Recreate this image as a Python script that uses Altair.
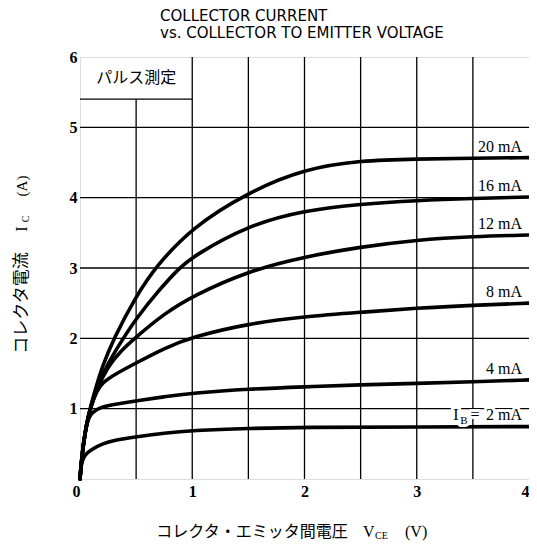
import altair as alt
import pandas as pd

# ---------------- data ----------------
V_2 = [0, 0.005, 0.015, 0.04, 0.1, 0.2, 0.3, 0.5, 0.75, 1, 1.5, 2, 3, 4]
I_2 = [0, 0.12, 0.24, 0.34, 0.42, 0.5, 0.55, 0.60, 0.655, 0.69, 0.72, 0.735, 0.74, 0.745]

V_4 = [0, 0.01, 0.03, 0.06, 0.1, 0.2, 0.3, 0.5, 0.75, 1, 1.5, 2, 2.5, 3, 3.5, 4]
I_4 = [0, 0.2, 0.5, 0.8, 0.95, 1.03, 1.06, 1.11, 1.17, 1.22, 1.28, 1.31, 1.34, 1.36, 1.38, 1.41]

V_8 = [0, 0.01, 0.03, 0.06, 0.1, 0.15, 0.2, 0.3, 0.5, 0.75, 1, 1.5, 2, 2.5, 3, 3.5, 4]
I_8 = [0, 0.2, 0.5, 0.8, 1.05, 1.25, 1.37, 1.48, 1.65, 1.86, 2.02, 2.21, 2.31, 2.37, 2.43, 2.47, 2.5]

V_12 = [0, 0.01, 0.03, 0.06, 0.1, 0.15, 0.25, 0.35, 0.5, 0.75, 1, 1.5, 2, 2.5, 3, 3.5, 4]
I_12 = [0, 0.2, 0.5, 0.8, 1.05, 1.28, 1.6, 1.8, 2.02, 2.35, 2.6, 2.96, 3.16, 3.3, 3.4, 3.45, 3.47]

V_16 = [0, 0.01, 0.03, 0.06, 0.1, 0.15, 0.25, 0.385, 0.5, 0.7, 0.885, 1, 1.5, 2, 2.5, 3, 3.5, 4]
I_16 = [0, 0.2, 0.5, 0.8, 1.05, 1.3, 1.65, 2.0, 2.28, 2.68, 3.0, 3.16, 3.61, 3.82, 3.91, 3.96, 3.99, 4.01]

V_20 = [0, 0.01, 0.03, 0.06, 0.1, 0.15, 0.2, 0.3, 0.5, 0.68, 1, 1.5, 2, 2.5, 3, 3.5, 4]
I_20 = [0, 0.2, 0.5, 0.8, 1.07, 1.35, 1.6, 2.0, 2.6, 3.03, 3.58, 4.08, 4.41, 4.53, 4.55, 4.56, 4.57]

CURVES = {"2 mA": (V_2, I_2), "4 mA": (V_4, I_4), "8 mA": (V_8, I_8),
          "12 mA": (V_12, I_12), "16 mA": (V_16, I_16), "20 mA": (V_20, I_20)}

LABELS = ["20 mA", "16 mA", "12 mA", "8 mA", "4 mA"]

X_TICKS = [0, 1, 2, 3, 4]
Y_TICKS = [1, 2, 3, 4, 5, 6]
V_GRID = [1, 1.5, 2, 2.5, 3, 3.5]
V_GRID_SHORT = [0.5]
I_GRID = [1, 2, 3, 4, 5]
BOX_BOTTOM = 5.4
BOX_RIGHT = 1

X_DOMAIN = [0, 4]
Y_DOMAIN = [0, 6]

# ---------------- tables ----------------
rows = []
for name, (vs, iss) in CURVES.items():
    for v, i in zip(vs, iss):
        rows.append({"series": name, "V": v, "I": i})
curve_df = pd.DataFrame(rows)

vgrid_df = pd.DataFrame(
    [{"v": v, "lo": Y_DOMAIN[0], "hi": Y_DOMAIN[1]} for v in V_GRID]
    + [{"v": v, "lo": Y_DOMAIN[0], "hi": BOX_BOTTOM} for v in V_GRID_SHORT]
)
hgrid_df = pd.DataFrame(
    [{"i": i, "lo": X_DOMAIN[0], "hi": X_DOMAIN[1]} for i in I_GRID]
    + [{"i": BOX_BOTTOM, "lo": X_DOMAIN[0], "hi": BOX_RIGHT}]
)
box_df = pd.DataFrame([{"v": BOX_RIGHT / 2, "i": (BOX_BOTTOM + Y_DOMAIN[1]) / 2, "t": "パルス測定"}])

label_df = pd.DataFrame(
    [{"V": CURVES[n][0][-1], "I": CURVES[n][1][-1], "t": n} for n in LABELS]
)
ib_df = pd.DataFrame([{"V": CURVES["2 mA"][0][-1], "I": CURVES["2 mA"][1][-1]}])

xs = alt.Scale(domain=X_DOMAIN, nice=False, zero=False)
ys = alt.Scale(domain=Y_DOMAIN, nice=False, zero=False)

SERIF = "Liberation Serif"
JP = "Noto Sans CJK JP"

x_axis = alt.Axis(values=X_TICKS, grid=False, ticks=False, domain=False, title=None,
                  format="d", labelFont=SERIF, labelFontSize=16, labelFontWeight="bold",
                  labelColor="black", labelPadding=4, labelFlush=False,
                  labelAlign=alt.expr("datum.value === 0 ? 'right' : (datum.value === 4 ? 'right' : 'center')"))
y_axis = alt.Axis(values=Y_TICKS, grid=False, ticks=False, domain=False, title=None,
                  format="d", labelFont=SERIF, labelFontSize=16, labelFontWeight="bold",
                  labelColor="black", labelPadding=3, labelFlush=False)

one = alt.Data(values=[{}])

# ---------------- layers ----------------
vgrid = alt.Chart(vgrid_df).mark_rule(color="black", strokeWidth=1.3).encode(
    x=alt.X("v:Q", scale=xs, axis=x_axis),
    y=alt.Y("lo:Q", scale=ys, axis=y_axis),
    y2="hi:Q",
)
hgrid = alt.Chart(hgrid_df).mark_rule(color="black", strokeWidth=1.3).encode(
    y=alt.Y("i:Q", scale=ys),
    x=alt.X("lo:Q", scale=xs),
    x2="hi:Q",
)
box_text = alt.Chart(box_df).mark_text(font=JP, fontSize=16, color="black").encode(
    x=alt.X("v:Q", scale=xs), y=alt.Y("i:Q", scale=ys), text="t:N"
)

lines = alt.Chart(curve_df).mark_line(
    color="black", strokeWidth=3.6, interpolate="basis", strokeCap="round"
).encode(
    x=alt.X("V:Q", scale=xs),
    y=alt.Y("I:Q", scale=ys),
    detail="series:N",
    order="V:Q",
)

labels = alt.Chart(label_df).mark_text(
    font=SERIF, fontSize=16, color="black", align="right", baseline="alphabetic", dx=-7, dy=-6
).encode(x=alt.X("V:Q", scale=xs), y=alt.Y("I:Q", scale=ys), text="t:N")


def ib_piece(txt, dx, dy, size, halo):
    kw = dict(font=SERIF, fontSize=size, align="center", baseline="alphabetic", dx=dx, dy=dy)
    if halo:
        kw.update(color="white", stroke="white", strokeWidth=6, strokeJoin="round")
    else:
        kw.update(color="black")
    return alt.Chart(ib_df).mark_text(**kw).encode(
        x=alt.X("V:Q", scale=xs), y=alt.Y("I:Q", scale=ys), text=alt.value(txt)
    )


ib_parts = [("I", -73, -7, 16), ("B", -65, -3, 11), ("=", -54, -7, 16), ("2 mA", -25, -7, 16)]
ib_layers = [ib_piece(t, dx, dy, s, True) for t, dx, dy, s in ib_parts] + \
            [ib_piece(t, dx, dy, s, False) for t, dx, dy, s in ib_parts]


def free_text(txt, x, y, size, font, angle=0, align="center"):
    m = dict(font=font, fontSize=size, color="black", align=align, baseline="middle")
    if angle:
        m["angle"] = angle
    return alt.Chart(one).mark_text(**m).encode(
        x=alt.value(x), y=alt.value(y), text=alt.value(txt)
    )


axis_titles = [
    free_text("コレクタ・エミッタ間電圧", 172, 475, 16, JP),
    free_text("V", 283, 475, 16, SERIF, align="left"),
    free_text("CE", 295, 479, 10, SERIF, align="left"),
    free_text("(V)", 325, 475, 16, SERIF, align="left"),
    free_text("コレクタ電流", -58, 246, 17, JP, angle=270),
    free_text("I", -58, 172, 16, SERIF, angle=270),
    free_text("C", -54, 162, 10, SERIF, angle=270),
    free_text("(A)", -58, 129, 15, SERIF, angle=270),
]

chart = alt.layer(
    vgrid, hgrid, box_text, lines, labels, *ib_layers, *axis_titles
).properties(
    width=449,
    height=422,
    autosize=alt.AutoSizeParams(type="none"),
    padding={"left": 72, "top": 49, "right": 0, "bottom": 62},
    title=alt.TitleParams(
        text=["COLLECTOR CURRENT", "vs. COLLECTOR TO EMITTER VOLTAGE"],
        anchor="start", frame="group", dx=80, offset=8,
        font="DejaVu Sans", fontSize=15, fontWeight="normal", lineHeight=17,
        color="black",
    ),
).configure_view(
    stroke="black", strokeWidth=2.5
).configure(background="white")

chart.save("out.html", embed_options={"renderer": "svg", "actions": False})
